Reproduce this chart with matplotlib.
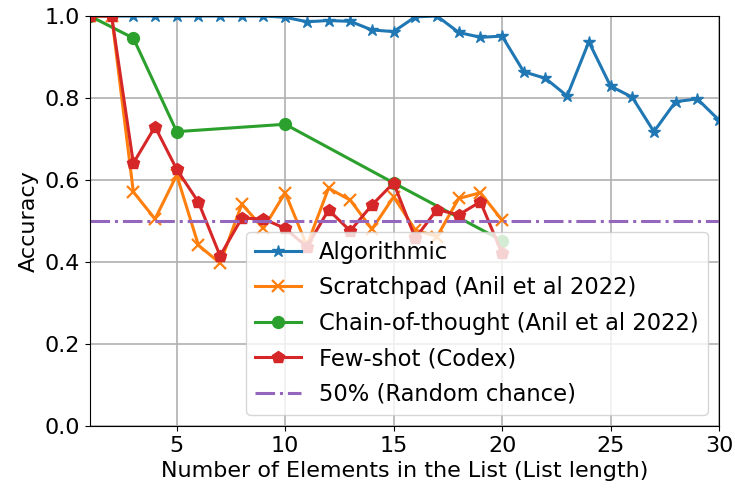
import matplotlib
matplotlib.use("Agg")
import matplotlib.pyplot as plt

plt.rcParams['font.size'] = 16

# list length (x) and accuracy values
algo_x = list(range(1, 31))
algo_y = [1.0, 1.0, 1.0, 1.0, 1.0, 1.0, 1.0, 1.0, 1.0, 0.997,
          0.986, 0.989, 0.987, 0.966, 0.962, 0.998, 1.0, 0.96, 0.948, 0.951,
          0.864, 0.848, 0.805, 0.937, 0.829, 0.802, 0.718, 0.791, 0.798, 0.746]

scratch_x = list(range(1, 21))
scratch_y = [1.0, 1.0, 0.571, 0.505, 0.612, 0.441, 0.397, 0.541, 0.482, 0.569,
             0.44, 0.58, 0.551, 0.48, 0.559, 0.478, 0.462, 0.555, 0.569, 0.502]

cot_x = [1, 3, 5, 10, 15, 20]
cot_y = [1.0, 0.946, 0.718, 0.736, 0.593, 0.452]

few_x = list(range(1, 21))
few_y = [1.0, 1.0, 0.641, 0.73, 0.626, 0.546, 0.415, 0.507, 0.505, 0.482,
         0.437, 0.527, 0.476, 0.539, 0.593, 0.458, 0.528, 0.515, 0.547, 0.421]

chance = 0.5

fig = plt.figure(figsize=(7.35, 4.9), dpi=100)
ax = fig.add_axes([0.1224, 0.1306, 0.8558, 0.8367])

ax.plot(algo_x, algo_y, marker='*', color='tab:blue', lw=2.2, ms=9, label='Algorithmic')
ax.plot(scratch_x, scratch_y, marker='x', color='tab:orange', lw=2.2, ms=9, mew=1.6,
        label='Scratchpad (Anil et al 2022)')
ax.plot(cot_x, cot_y, marker='o', color='tab:green', lw=2.2, ms=8.5,
        label='Chain-of-thought (Anil et al 2022)')
ax.plot(few_x, few_y, marker='p', color='tab:red', lw=2.2, ms=9, label='Few-shot (Codex)')
ax.axhline(chance, color='tab:purple', ls='-.', lw=2.2, label='50% (Random chance)')

ax.set_xlim(1, 30)
ax.set_ylim(0, 1)
ax.set_xticks([5, 10, 15, 20, 25, 30])
ax.set_yticks([0.0, 0.2, 0.4, 0.6, 0.8, 1.0])
ax.grid(True, color='#b0b0b0', lw=1.2)
ax.set_xlabel('Number of Elements in the List (List length)')
ax.set_ylabel('Accuracy')
ax.legend(loc='lower right', fontsize=16.3, labelspacing=0.55)

fig.savefig('out.png')
